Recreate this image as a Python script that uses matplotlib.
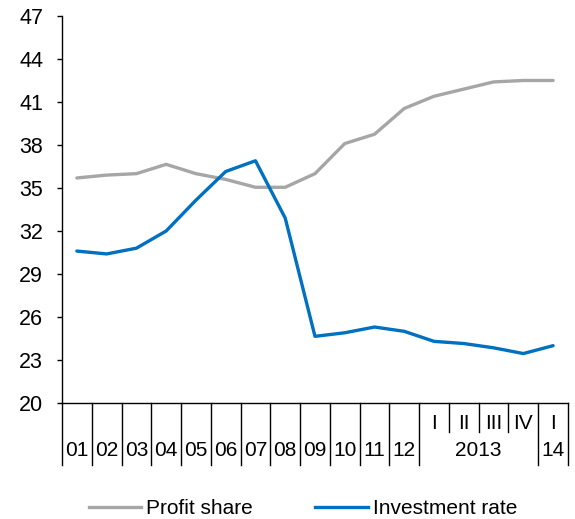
import matplotlib.pyplot as plt
import matplotlib.transforms as mtransforms
from matplotlib.lines import Line2D

plt.rcParams['font.family'] = ['Liberation Sans', 'DejaVu Sans']

# data
years = ["01", "02", "03", "04", "05", "06", "07", "08", "09", "10", "11", "12"]
quarters = ["I", "II", "III", "IV", "I"]
year_labels_q = ["2013", "14"]
profit_share = [35.7, 35.9, 36.0, 36.65, 36.0, 35.6, 35.05, 35.05, 36.0, 38.1, 38.75, 40.55,
                41.4, 41.9, 42.4, 42.5, 42.5]
investment_rate = [30.6, 30.4, 30.8, 32.0, 34.15, 36.15, 36.9, 32.9, 24.65, 24.9, 25.3, 25.0,
                   24.3, 24.15, 23.85, 23.45, 24.0]
yticks = [20, 23, 26, 29, 32, 35, 38, 41, 44, 47]

grey = "#A6A6A6"
blue = "#0070C0"
fs = 15

fig = plt.figure(figsize=(5.75, 5.19), dpi=100)
ax = fig.add_axes([0.1078, 0.2235, 0.88, 0.7457])

x = list(range(len(profit_share)))
ax.plot(x, profit_share, color=grey, lw=2.4, solid_capstyle='round', label="Profit share")
ax.plot(x, investment_rate, color=blue, lw=2.4, solid_capstyle='round', label="Investment rate")

ax.set_xlim(-0.5, len(x) - 0.5)
ax.set_ylim(20, 47)
ax.set_yticks(yticks)
ax.tick_params(axis='y', labelsize=15.5, length=3.6, width=1, pad=10)
ax.set_xticks([])
for s in ["top", "right"]:
    ax.spines[s].set_visible(False)
ax.spines["left"].set_linewidth(1)
ax.spines["bottom"].set_linewidth(1)

# category separators below the axis
trans = mtransforms.blended_transform_factory(ax.transData, ax.transAxes)
long_len = 0.160
short_len = 0.075
n_years = len(years)
for i in range(len(x) + 1):
    b = i - 0.5
    if n_years < i < n_years + 4:
        d = short_len
    else:
        d = long_len
    ax.plot([b, b], [0, -d], color="black", lw=1, transform=trans, clip_on=False)

# labels
yl = -0.123
yq = -0.054
for i, lab in enumerate(years):
    ax.text(i, yl, lab, transform=trans, ha='center', va='center', fontsize=fs)
for j, lab in enumerate(quarters):
    ax.text(n_years + j, yq, lab, transform=trans, ha='center', va='center', fontsize=fs)
ax.text(n_years + 1.5, yl, year_labels_q[0], transform=trans, ha='center', va='center', fontsize=fs)
ax.text(n_years + 4, yl, year_labels_q[1], transform=trans, ha='center', va='center', fontsize=fs)

handles = [Line2D([], [], color=grey, lw=2.4), Line2D([], [], color=blue, lw=2.4)]
fig.legend(handles, ["Profit share", "Investment rate"], loc='center', bbox_to_anchor=(0.527, 0.02),
           ncol=2, frameon=False, fontsize=fs, handlelength=2.5, handletextpad=0.25,
           columnspacing=3.0)

fig.savefig("out.png", dpi=100)
